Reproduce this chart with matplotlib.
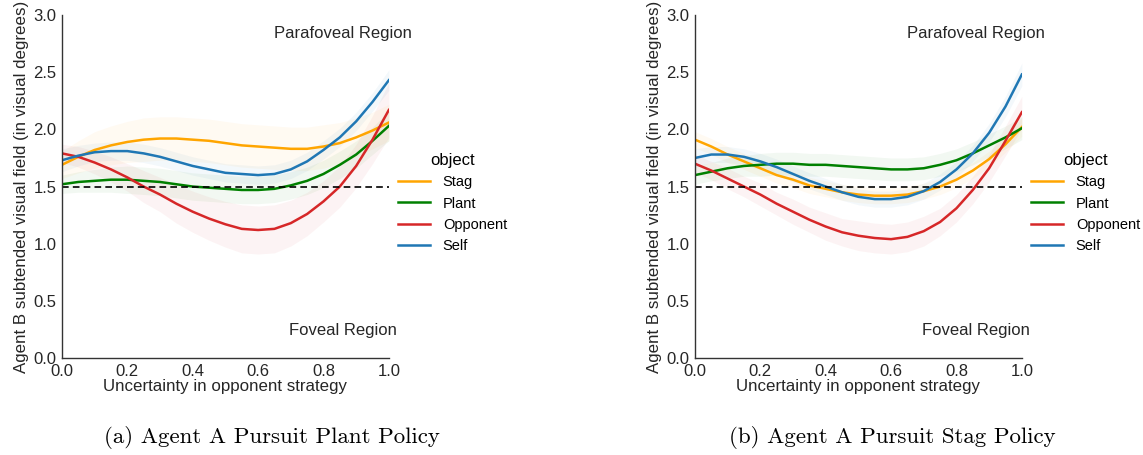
import numpy as np
import matplotlib
matplotlib.use("Agg")
import matplotlib.pyplot as plt

# ---------------- data ----------------
x = [0.00, 0.05, 0.10, 0.15, 0.20, 0.25, 0.30, 0.35, 0.40, 0.45, 0.50,
     0.55, 0.60, 0.65, 0.70, 0.75, 0.80, 0.85, 0.90, 0.95, 1.00]
objects = ["Stag", "Plant", "Opponent", "Self"]

# Panel (a): Agent A Pursuit Plant Policy
a_stag = [1.69, 1.76, 1.82, 1.86, 1.89, 1.91, 1.92, 1.92, 1.91, 1.90, 1.88,
          1.86, 1.85, 1.84, 1.83, 1.83, 1.85, 1.88, 1.93, 1.99, 2.06]
a_plant = [1.52, 1.54, 1.55, 1.56, 1.56, 1.55, 1.54, 1.52, 1.50, 1.49, 1.48,
           1.47, 1.47, 1.48, 1.51, 1.55, 1.61, 1.69, 1.78, 1.90, 2.03]
a_opponent = [1.79, 1.76, 1.71, 1.65, 1.58, 1.50, 1.43, 1.35, 1.28, 1.22, 1.17,
              1.13, 1.12, 1.13, 1.18, 1.26, 1.37, 1.50, 1.68, 1.91, 2.17]
a_self = [1.73, 1.77, 1.80, 1.81, 1.81, 1.79, 1.76, 1.72, 1.68, 1.65, 1.62,
          1.61, 1.60, 1.61, 1.65, 1.72, 1.82, 1.93, 2.07, 2.24, 2.43]
# confidence-band half widths
a_stag_ci = [0.12, 0.14, 0.16, 0.17, 0.18, 0.19, 0.19, 0.19, 0.19, 0.19, 0.19,
             0.19, 0.19, 0.19, 0.19, 0.19, 0.19, 0.18, 0.17, 0.16, 0.16]
a_plant_ci = [0.08, 0.09, 0.10, 0.11, 0.12, 0.12, 0.12, 0.12, 0.12, 0.12, 0.12,
              0.12, 0.12, 0.12, 0.12, 0.12, 0.12, 0.12, 0.12, 0.12, 0.13]
a_opponent_ci = [0.08, 0.09, 0.10, 0.11, 0.12, 0.14, 0.15, 0.17, 0.18, 0.19, 0.20,
                 0.21, 0.21, 0.21, 0.20, 0.19, 0.18, 0.18, 0.19, 0.21, 0.24]
a_self_ci = [0.10, 0.09, 0.08, 0.08, 0.08, 0.08, 0.08, 0.08, 0.08, 0.08, 0.08,
             0.08, 0.08, 0.08, 0.08, 0.08, 0.08, 0.08, 0.08, 0.08, 0.09]

# Panel (b): Agent A Pursuit Stag Policy
b_stag = [1.91, 1.85, 1.78, 1.72, 1.66, 1.60, 1.56, 1.51, 1.48, 1.45, 1.43,
          1.42, 1.42, 1.43, 1.46, 1.50, 1.56, 1.64, 1.74, 1.87, 2.02]
b_plant = [1.60, 1.63, 1.66, 1.68, 1.69, 1.70, 1.70, 1.69, 1.69, 1.68, 1.67,
           1.66, 1.65, 1.65, 1.66, 1.69, 1.73, 1.79, 1.86, 1.93, 2.01]
b_opponent = [1.70, 1.64, 1.57, 1.50, 1.43, 1.35, 1.28, 1.21, 1.15, 1.10, 1.07,
              1.05, 1.04, 1.06, 1.11, 1.19, 1.31, 1.47, 1.66, 1.90, 2.15]
b_self = [1.75, 1.78, 1.78, 1.76, 1.72, 1.67, 1.61, 1.55, 1.50, 1.45, 1.41,
          1.39, 1.39, 1.41, 1.46, 1.54, 1.65, 1.79, 1.97, 2.20, 2.48]
b_stag_ci = [0.07, 0.07, 0.07, 0.07, 0.07, 0.07, 0.07, 0.07, 0.07, 0.07, 0.07,
             0.07, 0.07, 0.07, 0.07, 0.07, 0.07, 0.07, 0.07, 0.07, 0.08]
b_plant_ci = [0.08, 0.08, 0.09, 0.09, 0.10, 0.10, 0.10, 0.10, 0.10, 0.10, 0.10,
              0.10, 0.10, 0.10, 0.10, 0.10, 0.10, 0.10, 0.10, 0.10, 0.10]
b_opponent_ci = [0.08, 0.08, 0.09, 0.09, 0.10, 0.10, 0.11, 0.11, 0.12, 0.12, 0.13,
                 0.13, 0.13, 0.13, 0.13, 0.12, 0.12, 0.12, 0.12, 0.13, 0.14]
b_self_ci = [0.08, 0.07, 0.07, 0.07, 0.07, 0.07, 0.07, 0.07, 0.07, 0.07, 0.07,
             0.07, 0.07, 0.07, 0.07, 0.07, 0.07, 0.07, 0.08, 0.09, 0.10]

threshold = 1.5
captions = ["(a) Agent A Pursuit Plant Policy", "(b) Agent A Pursuit Stag Policy"]
colors = {"Stag": "#ffa500", "Plant": "#008000", "Opponent": "#d62728", "Self": "#1f77b4"}

plt.rcParams["font.family"] = ["Liberation Sans", "DejaVu Sans"]

fig = plt.figure(figsize=(11.43, 4.55), dpi=100)

panels = [
    (0.0542, {"Stag": (a_stag, a_stag_ci), "Plant": (a_plant, a_plant_ci),
              "Opponent": (a_opponent, a_opponent_ci), "Self": (a_self, a_self_ci)}),
    (0.608, {"Stag": (b_stag, b_stag_ci), "Plant": (b_plant, b_plant_ci),
             "Opponent": (b_opponent, b_opponent_ci), "Self": (b_self, b_self_ci)}),
]
cap_x = [0.238, 0.781]

xs = np.array(x)
for i, (left, series) in enumerate(panels):
    ax = fig.add_axes([left, 0.213, 0.286, 0.754])
    handles = []
    for name in objects:
        y, ci = series[name]
        y = np.array(y); ci = np.array(ci)
        ax.fill_between(xs, y - ci, y + ci, color=colors[name], alpha=0.05, lw=0)
        h, = ax.plot(xs, y, color=colors[name], lw=1.8, label=name,
                     solid_joinstyle="round")
        handles.append(h)
    ax.axhline(threshold, color="black", ls="--", lw=1.2, dashes=(4, 2.5))
    ax.set_xlim(0, 1)
    ax.set_ylim(0, 3)
    ax.set_xticks([0.0, 0.2, 0.4, 0.6, 0.8, 1.0])
    ax.set_yticks([0.0, 0.5, 1.0, 1.5, 2.0, 2.5, 3.0])
    ax.xaxis.set_major_formatter(matplotlib.ticker.FormatStrFormatter("%.1f"))
    ax.yaxis.set_major_formatter(matplotlib.ticker.FormatStrFormatter("%.1f"))
    ax.tick_params(length=0, labelsize=12, colors="#262626", pad=4)
    for s in ["top", "right"]:
        ax.spines[s].set_visible(False)
    for s in ["left", "bottom"]:
        ax.spines[s].set_color("#333333")
        ax.spines[s].set_linewidth(1.0)
    ax.set_xlabel("Uncertainty in opponent strategy", fontsize=12.2, color="#262626",
                  labelpad=0)
    ax.set_ylabel("Agent B subtended visual field (in visual degrees)", fontsize=12.2,
                  color="#262626", labelpad=3)
    ax.text(0.86, 2.84, "Parafoveal Region", ha="center", va="center", fontsize=12,
            color="#262626")
    ax.text(0.86, 0.245, "Foveal Region", ha="center", va="center", fontsize=12,
            color="#262626")
    leg = ax.legend(handles=handles, title="object", loc="center left",
                    bbox_to_anchor=(1.0, 0.452), frameon=False, fontsize=10.5,
                    title_fontsize=12, handlelength=2.2, handletextpad=0.9,
                    labelspacing=0.5, borderaxespad=0.2)
    fig.text(cap_x[i], 0.038, captions[i], ha="center", va="center",
             fontsize=16.5, family="cmr10")

fig.savefig("out.png", dpi=100, facecolor="white")
